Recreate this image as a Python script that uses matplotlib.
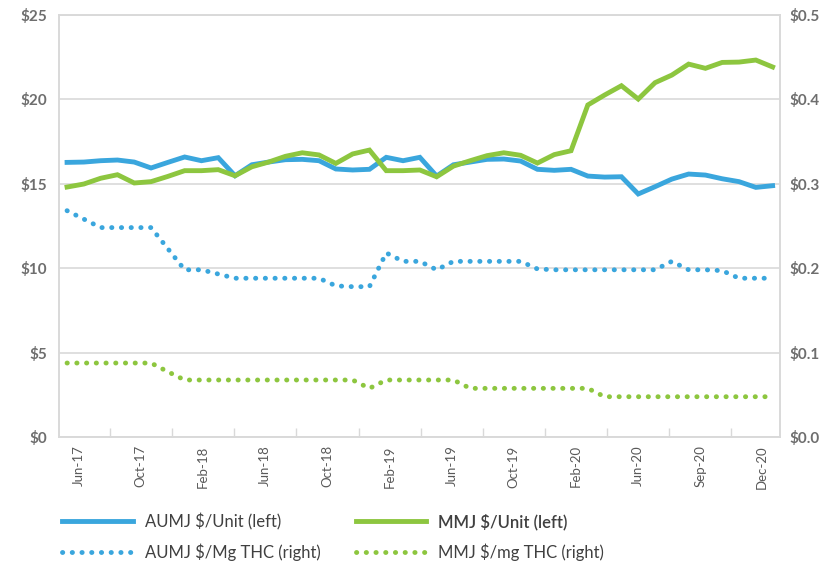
import numpy as np
import matplotlib
matplotlib.use("Agg")
from matplotlib import pyplot as plt

plt.rcParams['font.family'] = ['Lato', 'DejaVu Sans']

# monthly, Jun-17 .. Dec-20
aumj_unit = [16.26, 16.28, 16.36, 16.40, 16.28, 15.93, 16.26, 16.58, 16.36, 16.54,
             15.47, 16.12, 16.28, 16.42, 16.44, 16.36, 15.87, 15.81, 15.85, 16.56,
             16.36, 16.56, 15.45, 16.12, 16.28, 16.44, 16.46, 16.34, 15.85, 15.79,
             15.85, 15.45, 15.39, 15.41, 14.39, 14.82, 15.27, 15.57, 15.51, 15.29,
             15.12, 14.78, 14.88]
mmj_unit = [14.80, 14.98, 15.32, 15.53, 15.04, 15.12, 15.43, 15.77, 15.77, 15.83,
            15.47, 16.00, 16.28, 16.62, 16.83, 16.70, 16.20, 16.76, 16.99, 15.77,
            15.77, 15.81, 15.41, 16.04, 16.36, 16.66, 16.83, 16.68, 16.22, 16.72,
            16.95, 19.66, 20.25, 20.80, 20.01, 20.98, 21.43, 22.08, 21.83, 22.18,
            22.20, 22.32, 21.91]
aumj_mg = [0.268, 0.258, 0.248, 0.248, 0.248, 0.248, 0.223, 0.198, 0.198, 0.193,
           0.188, 0.188, 0.188, 0.188, 0.188, 0.188, 0.179, 0.178, 0.178, 0.218,
           0.208, 0.208, 0.198, 0.208, 0.208, 0.208, 0.208, 0.208, 0.199, 0.198,
           0.198, 0.198, 0.198, 0.198, 0.198, 0.198, 0.208, 0.198, 0.198, 0.197,
           0.188, 0.188, 0.188]
mmj_mg = [0.0876, 0.0876, 0.0876, 0.0876, 0.0876, 0.0876, 0.0773, 0.0675, 0.0675, 0.0675,
          0.0675, 0.0675, 0.0675, 0.0675, 0.0675, 0.0675, 0.0675, 0.0675, 0.0576, 0.0675,
          0.0675, 0.0675, 0.0675, 0.0675, 0.0576, 0.0576, 0.0576, 0.0576, 0.0576, 0.0576,
          0.0576, 0.0576, 0.0477, 0.0477, 0.0477, 0.0477, 0.0477, 0.0477, 0.0477, 0.0477,
          0.0477, 0.0477, 0.0477]
tick_labels = ['Jun-17', 'Oct-17', 'Feb-18', 'Jun-18', 'Oct-18', 'Feb-19',
               'Jun-19', 'Oct-19', 'Feb-20', 'Jun-20', 'Sep-20', 'Dec-20']

blue = '#3aa6dd'
green = '#8dc63f'
grid_c = '#d9d9d9'
x = np.arange(len(aumj_unit))

fig = plt.figure(figsize=(8.38, 5.69), dpi=100)
ax = fig.add_axes([0.071, 0.232, 0.860, 0.742])
ax2 = ax.twinx()

lw = 3.5
l1, = ax.plot(x, aumj_unit, color=blue, lw=lw, solid_joinstyle='miter', label='AUMJ $/Unit (left)')
l2, = ax.plot(x, mmj_unit, color=green, lw=lw, solid_joinstyle='miter', label='MMJ $/Unit (left)')
dots = (0, (0.05, 1.95))
l3, = ax2.plot(x, aumj_mg, color=blue, lw=lw, ls=dots, dash_capstyle='round', label='AUMJ $/Mg THC (right)')
l4, = ax2.plot(x, mmj_mg, color=green, lw=lw, ls=dots, dash_capstyle='round', label='MMJ $/mg THC (right)')

ax.set_xlim(-0.45, 42.45)
ax.set_ylim(0, 25)
ax2.set_ylim(0, 0.5)
ax.set_yticks(np.arange(0, 26, 5))
ax.set_yticklabels(['$%d' % v for v in range(0, 26, 5)])
ax2.set_yticks(np.arange(0, 0.51, 0.1))
ax2.set_yticklabels(['$%.1f' % v for v in np.arange(0, 0.51, 0.1)])
ax.grid(axis='y', color=grid_c, lw=1.2)
ax.set_axisbelow(True)

step = 3.70
ax.set_xticks([2.55 + step * k for k in range(11)])
ax.set_xticklabels([])
ax.tick_params(axis='x', direction='in', length=6.5, color=grid_c, width=1)
ax.set_xticks([0.68 + step * k for k in range(len(tick_labels))], minor=True)
ax.set_xticklabels(tick_labels, minor=True, rotation=90, fontsize=9.5, color='#595959')
ax.tick_params(axis='x', which='minor', length=0, pad=6)

for a in (ax, ax2):
    a.tick_params(axis='y', length=0, labelsize=11, labelcolor='#6e6e6e')
    for lab in a.get_yticklabels():
        lab.set_fontweight('bold')
    for s in a.spines.values():
        s.set_color(grid_c)
        s.set_linewidth(1.2)
ax.tick_params(axis='y', pad=9)
ax2.tick_params(axis='y', pad=7)

leg = fig.legend([l1, l3, l2, l4], [l.get_label() for l in (l1, l3, l2, l4)],
                 ncol=2, loc='upper left', bbox_to_anchor=(0.074, 0.098),
                 frameon=False, fontsize=12, handlelength=4.25, handletextpad=0.72,
                 columnspacing=2.1, labelspacing=0.78, borderaxespad=0, borderpad=0)
for t in leg.get_texts():
    t.set_color('#404040')
leg.get_texts()[2].set_fontweight('semibold')

fig.savefig('out.png', dpi=100)
